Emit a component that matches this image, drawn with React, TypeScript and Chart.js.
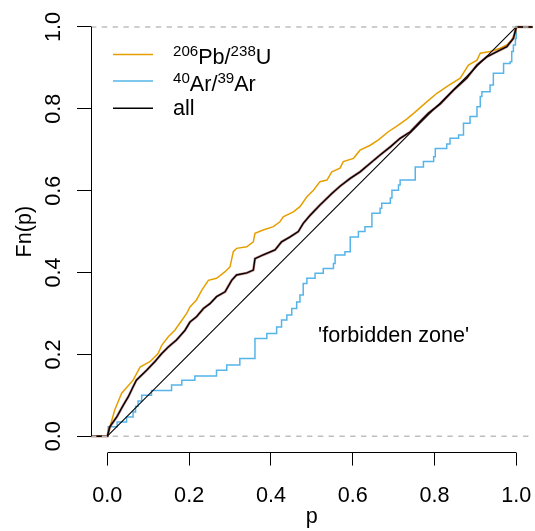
import React, { useEffect, useRef } from 'react';
import { Chart, registerables } from 'chart.js';

Chart.register(...registerables);

const FONT_FAMILY = "'Liberation Sans', Arial, Helvetica, sans-serif";
const FONT_SIZE = 21.6;
const SUP_SIZE = 15.1;

const ORANGE = '#E69F00';
const BLUE = '#56B4E9';
const BLACK = '#000000';
const GREY = '#BEBEBE';

// axes
const xTicks = [0, 0.2, 0.4, 0.6, 0.8, 1.0];
const yTicks = [0, 0.2, 0.4, 0.6, 0.8, 1.0];
const xLimits = [-0.04, 1.04];
const yLimits = [-0.04, 1.04];
const refLevels = [0, 1];

// 206Pb/238U ECDF
const pbP = [-0.1, 0, 0.018, 0.035, 0.063, 0.08, 0.104, 0.124, 0.133, 0.149, 0.165, 0.177, 0.194, 0.202, 0.218, 0.231, 0.247, 0.267, 0.288, 0.3, 0.308, 0.316, 0.341, 0.357, 0.361, 0.381, 0.406, 0.422, 0.43, 0.455, 0.471, 0.488, 0.504, 0.52, 0.537, 0.549, 0.569, 0.577, 0.602, 0.618, 0.643, 0.663, 0.687, 0.708, 0.732, 0.749, 0.765, 0.781, 0.806, 0.83, 0.863, 0.883, 0.904, 0.912, 0.936, 0.961, 0.977, 0.989, 0.998, 1.0, 1.1];
const pbFn = [0, 0, 0.064, 0.105, 0.137, 0.169, 0.182, 0.202, 0.222, 0.243, 0.259, 0.276, 0.3, 0.316, 0.333, 0.357, 0.381, 0.386, 0.402, 0.414, 0.451, 0.459, 0.463, 0.475, 0.496, 0.504, 0.512, 0.524, 0.536, 0.548, 0.561, 0.585, 0.601, 0.622, 0.626, 0.646, 0.655, 0.671, 0.679, 0.699, 0.711, 0.724, 0.744, 0.758, 0.775, 0.789, 0.803, 0.817, 0.838, 0.854, 0.875, 0.907, 0.919, 0.936, 0.94, 0.948, 0.956, 0.968, 0.985, 1.0, 1.0];

// 40Ar/39Ar ECDF steps (jump location, new level)
const arP = [-0.1, 0.002, 0.024, 0.047, 0.063, 0.069, 0.075, 0.084, 0.108, 0.157, 0.182, 0.214, 0.267, 0.292, 0.324, 0.361, 0.39, 0.414, 0.426, 0.439, 0.451, 0.463, 0.471, 0.479, 0.488, 0.508, 0.528, 0.553, 0.557, 0.581, 0.594, 0.614, 0.63, 0.647, 0.667, 0.671, 0.692, 0.696, 0.712, 0.716, 0.753, 0.773, 0.798, 0.802, 0.83, 0.838, 0.859, 0.871, 0.887, 0.904, 0.912, 0.916, 0.936, 0.944, 0.969, 0.985, 0.989, 0.993, 0.998, 1.0, 1.1];
const arFn = [0, 0.023, 0.035, 0.047, 0.059, 0.073, 0.086, 0.1, 0.112, 0.125, 0.137, 0.147, 0.161, 0.174, 0.19, 0.239, 0.251, 0.267, 0.284, 0.296, 0.312, 0.328, 0.345, 0.373, 0.386, 0.398, 0.41, 0.422, 0.443, 0.451, 0.487, 0.5, 0.512, 0.545, 0.557, 0.569, 0.582, 0.601, 0.614, 0.626, 0.658, 0.671, 0.683, 0.703, 0.714, 0.728, 0.736, 0.765, 0.781, 0.805, 0.83, 0.842, 0.858, 0.887, 0.911, 0.915, 0.94, 0.956, 0.972, 1.0, 1.0];

// all ECDF
const allP = [-0.1, 0, 0.006, 0.023, 0.039, 0.051, 0.063, 0.071, 0.096, 0.116, 0.133, 0.149, 0.169, 0.19, 0.202, 0.218, 0.235, 0.251, 0.267, 0.288, 0.304, 0.316, 0.341, 0.357, 0.361, 0.381, 0.41, 0.426, 0.447, 0.467, 0.479, 0.496, 0.52, 0.549, 0.569, 0.594, 0.618, 0.643, 0.667, 0.692, 0.716, 0.741, 0.761, 0.785, 0.814, 0.847, 0.879, 0.904, 0.928, 0.953, 0.977, 0.993, 1.0, 1.1];
const allFn = [0, 0, 0.023, 0.047, 0.076, 0.096, 0.121, 0.137, 0.161, 0.182, 0.202, 0.218, 0.235, 0.259, 0.279, 0.292, 0.312, 0.324, 0.341, 0.353, 0.381, 0.394, 0.399, 0.406, 0.434, 0.443, 0.455, 0.475, 0.487, 0.5, 0.52, 0.54, 0.565, 0.593, 0.611, 0.63, 0.646, 0.667, 0.687, 0.707, 0.728, 0.744, 0.765, 0.789, 0.812, 0.846, 0.875, 0.907, 0.927, 0.94, 0.952, 0.972, 1.0, 1.0];

// 1:1 line
const diagP = [0, 1];
const diagFn = [0, 1];

// annotation
const annotText = "'forbidden zone'";
const annotP = 0.7;
const annotFn = 0.25;

// legend
const legendLabels = [
  [{ t: '206', sup: true }, { t: 'Pb/' }, { t: '238', sup: true }, { t: 'U' }],
  [{ t: '40', sup: true }, { t: 'Ar/' }, { t: '39', sup: true }, { t: 'Ar' }],
  [{ t: 'all' }],
];
const legendColors = [ORANGE, BLUE, BLACK];

const font = (size: number) => `${size}px ${FONT_FAMILY}`;
const align = (v: number) => Math.round(v - 0.5) + 0.5;

const decorPlugin = {
  id: 'decor',
  afterDraw(chart: any) {
    const { ctx, chartArea, scales } = chart;
    const xs = scales.x;
    const ys = scales.y;
    ctx.save();
    ctx.strokeStyle = BLACK;
    ctx.lineWidth = 1;
    // R-style axis lines spanning first..last tick
    const yb = align(chartArea.bottom);
    ctx.beginPath();
    ctx.moveTo(align(xs.getPixelForValue(xTicks[0])), yb);
    ctx.lineTo(align(xs.getPixelForValue(xTicks[xTicks.length - 1])), yb);
    ctx.stroke();
    const xl = align(chartArea.left);
    ctx.beginPath();
    ctx.moveTo(xl, align(ys.getPixelForValue(yTicks[0])));
    ctx.lineTo(xl, align(ys.getPixelForValue(yTicks[yTicks.length - 1])));
    ctx.stroke();

    // rotated y tick labels
    ctx.fillStyle = BLACK;
    ctx.font = font(FONT_SIZE);
    ctx.textAlign = 'center';
    ctx.textBaseline = 'alphabetic';
    for (const v of yTicks) {
      ctx.save();
      ctx.translate(chartArea.left - 31.5, ys.getPixelForValue(v));
      ctx.rotate(-Math.PI / 2);
      ctx.fillText(v.toFixed(1), 0, 0);
      ctx.restore();
    }

    // annotation
    ctx.textAlign = 'center';
    ctx.fillText(annotText, xs.getPixelForValue(annotP), ys.getPixelForValue(annotFn) + 0.358 * FONT_SIZE);

    // legend
    const lineX0 = chartArea.left + 22;
    const lineX1 = chartArea.left + 62;
    const textX = chartArea.left + 82;
    const lineYs = [44, 70.4, 97.7];
    const baseYs = [53.7, 80.4, 104.4];
    ctx.textAlign = 'left';
    legendLabels.forEach((pieces, i) => {
      ctx.strokeStyle = legendColors[i];
      ctx.lineWidth = 1.5;
      const ly = chartArea.top + lineYs[i];
      ctx.beginPath();
      ctx.moveTo(lineX0, ly);
      ctx.lineTo(lineX1, ly);
      ctx.stroke();
      let x = textX;
      const by = chartArea.top + baseYs[i];
      ctx.fillStyle = BLACK;
      for (const p of pieces as any[]) {
        ctx.font = font(p.sup ? SUP_SIZE : FONT_SIZE);
        ctx.fillText(p.t, x, p.sup ? by - 8.5 : by);
        x += ctx.measureText(p.t).width;
      }
    });
    ctx.restore();
  },
};

export default function App() {
  const ref = useRef<HTMLCanvasElement>(null);
  useEffect(() => {
    document.body.style.margin = '0';
    const canvas = ref.current as HTMLCanvasElement;
    const toPts = (xs: number[], ys: number[]) => xs.map((x, i) => ({ x, y: ys[i] }));
    const base = { pointRadius: 0, pointHoverRadius: 0, fill: false, tension: 0 };
    const datasets: any[] = [
      ...refLevels.map((lv) => ({
        ...base,
        label: `ref${lv}`,
        data: toPts(xLimits, xLimits.map(() => lv)),
        borderColor: GREY,
        borderWidth: 1.4,
        borderDash: [5.4, 5.4],
        order: 0,
      })),
      { ...base, label: 'all', data: toPts(allP, allFn), borderColor: BLACK, borderWidth: 1.4, order: 1 },
      { ...base, label: 'all-halo', data: toPts(allP, allFn), borderColor: 'rgba(139,0,0,0.45)', borderWidth: 2.6, order: 2 },
      { ...base, label: 'diag', data: toPts(diagP, diagFn), borderColor: BLACK, borderWidth: 1.1, order: 3 },
      { ...base, label: 'Pb', data: toPts(pbP, pbFn), borderColor: ORANGE, borderWidth: 1.5, order: 4 },
      { ...base, label: 'Ar', data: toPts(arP, arFn), borderColor: BLUE, borderWidth: 1.5, stepped: true, order: 5 },
    ];
    const chart = new Chart(canvas, {
      type: 'line',
      data: { datasets },
      options: {
        animation: false,
        responsive: false,
        maintainAspectRatio: false,
        events: [],
        layout: { padding: { top: 10.6, right: 2.4, left: 0, bottom: 0 } },
        plugins: { legend: { display: false }, tooltip: { enabled: false } },
        scales: {
          x: {
            type: 'linear',
            min: xLimits[0],
            max: xLimits[1],
            afterBuildTicks: (s: any) => {
              s.ticks = xTicks.map((v) => ({ value: v }));
            },
            afterFit: (s: any) => {
              s.height = 78.4;
              s.paddingLeft = 0;
              s.paddingRight = 0;
            },
            grid: { drawOnChartArea: false, drawTicks: true, tickLength: 13, color: BLACK, lineWidth: 1 },
            border: { display: false },
            ticks: {
              autoSkip: false,
              maxRotation: 0,
              minRotation: 0,
              padding: 17,
              color: BLACK,
              font: { family: FONT_FAMILY, size: FONT_SIZE },
              callback: (v: any) => Number(v).toFixed(1),
            },
            title: {
              display: true,
              text: 'p',
              color: BLACK,
              font: { family: FONT_FAMILY, size: FONT_SIZE },
              padding: { top: 0, bottom: 1.2 },
            },
          },
          y: {
            type: 'linear',
            min: yLimits[0],
            max: yLimits[1],
            afterBuildTicks: (s: any) => {
              s.ticks = yTicks.map((v) => ({ value: v }));
            },
            afterFit: (s: any) => {
              s.width = 91;
              s.paddingTop = 0;
              s.paddingBottom = 0;
            },
            grid: { drawOnChartArea: false, drawTicks: true, tickLength: 14, color: BLACK, lineWidth: 1 },
            border: { display: false },
            ticks: { display: false },
            title: {
              display: true,
              text: 'Fn(p)',
              color: BLACK,
              font: { family: FONT_FAMILY, size: FONT_SIZE },
              padding: { top: 12, bottom: 0 },
            },
          },
        },
      } as any,
      plugins: [decorPlugin],
    });
    return () => chart.destroy();
  }, []);
  return (
    <div style={{ position: 'absolute', left: 0, top: 0, width: 535, height: 531 }}>
      <canvas ref={ref} width={535} height={531} style={{ display: 'block', width: 535, height: 531 }} />
    </div>
  );
}
